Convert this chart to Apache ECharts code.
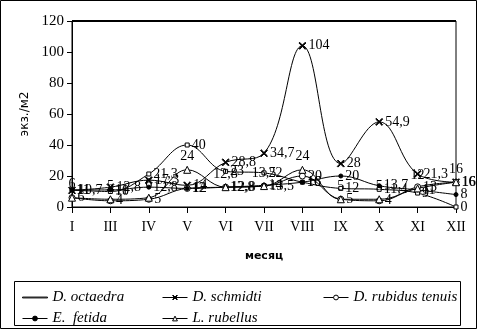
<!DOCTYPE html>
<html>
<head>
<meta charset="utf-8">
<script src="https://cdn.jsdelivr.net/npm/echarts@6/dist/echarts.min.js"></script>
<style>
html,body{margin:0;padding:0;background:#fff;}
#main{width:477px;height:329px;}
</style>
</head>
<body>
<div id="main"></div>
<script>
var months = ['I','III','IV','V','VI','VII','VIII','IX','X','XI','XII'];
var yTicks = [0,20,40,60,80,100,120];

var octaedra = [11, 10, 21.3, 40, 23, 22, 16, 12, 11.4, 9, 0];
var schmidti = [10.7, 12.8, 17.3, 14, 28.8, 34.7, 104, 28, 54.9, 21.3, 16];
var rubidus  = [6, 4, 5, 12, 12.8, 13.5, 20, 5, 4, 13, 16];
var fetida   = [11, 11, 12.8, 12, 12.8, 14, 16, 20, 13.7, 11, 8];
var rubellus = [6, 5, 6, 24, 12.8, 13.5, 24, 5, 5, 12, 16];

var names = ['D. octaedra','D. schmidti','D. rubidus tenuis','E.  fetida','L. rubellus'];

var cross = 'path://M0,1L1,0L5,4L9,0L10,1L6,5L10,9L9,10L5,6L1,10L0,9L4,5Z';

function fmt(p){
    return String(p.value).replace('.',',');
}

function mk(name,data,symbol,size,pos,fill){
    return {
        name:name,
        type:'line',
        smooth:0.4,
        data:data,
        symbol:symbol,
        symbolSize:size,
        showAllSymbol:true,
        lineStyle:{color:'#000',width:1},
        itemStyle:{color:fill,borderColor:'#000',borderWidth:1},
        label:{show:true,position:pos,distance:2,color:'#000',
            fontFamily:'Liberation Serif',fontSize:14,formatter:fmt},
        emphasis:{disabled:true}
    };
}

var myChart = echarts.init(document.getElementById('main'));
var legendText = {fontFamily:'Liberation Serif',fontStyle:'italic',fontSize:15,color:'#000'};
function lg(name,left,top,icon){
    var d = {name:name};
    var h = 6;
    if(icon){ d.icon = icon; h = 1; }
    return {data:[d],left:left,top:top,itemWidth:25,itemHeight:h,itemGap:4,
        textStyle:legendText,selectedMode:false,
        lineStyle:{width:1,color:'#000'},itemStyle:{borderWidth:1,borderColor:'#000'}};
}

option = {
    backgroundColor:'#fff',
    animation:false,
    grid:{left:72,right:21,top:21,bottom:122,show:true,borderColor:'#000',borderWidth:1},
    graphic:[
        {type:'rect',shape:{x:0.5,y:0.5,width:476,height:328},style:{fill:'none',stroke:'#000',lineWidth:1}},
        {type:'line',shape:{x1:72,y1:21,x2:456,y2:21},style:{stroke:'#000',lineWidth:2}},
        {type:'rect',shape:{x:14.5,y:281.5,width:446,height:44},style:{fill:'none',stroke:'#000',lineWidth:1}}
    ],
    legend:[
        lg(names[0],17,285,'path://M0,0h30v1h-30z'),
        lg(names[1],157,285),
        lg(names[2],318,285),
        lg(names[3],17,306),
        lg(names[4],157,306)
    ],
    xAxis:{
        type:'category',
        boundaryGap:false,
        data:months,
        name:'месяц',
        nameLocation:'middle',
        nameGap:44,
        nameTextStyle:{fontFamily:'DejaVu Sans',fontWeight:'bold',fontSize:11,color:'#000'},
        axisLine:{lineStyle:{color:'#000',width:1}},
        axisTick:{show:true,alignWithLabel:true,length:6,lineStyle:{color:'#000'}},
        axisLabel:{color:'#000',fontFamily:'Liberation Serif',fontSize:14,margin:13},
        splitLine:{show:false}
    },
    yAxis:{
        type:'value',
        min:0,
        max:120,
        interval:20,
        name:'экз./м2',
        nameLocation:'middle',
        nameGap:31,
        nameTextStyle:{fontFamily:'DejaVu Sans',fontSize:12,color:'#000'},
        axisLine:{show:true,lineStyle:{color:'#000',width:1}},
        axisTick:{show:true,length:5,lineStyle:{color:'#000'}},
        axisLabel:{color:'#000',fontFamily:'Liberation Serif',fontSize:15,margin:8,
            formatter:function(v){return yTicks.indexOf(v)>=0?String(v):'';}},
        splitLine:{show:false}
    },
    series:[
        mk(names[0],octaedra,'rect',4,'right','#fff'),
        mk(names[1],schmidti,cross,7,'right','#000'),
        mk(names[2],rubidus,'circle',6,'right','#fff'),
        mk(names[3],fetida,'circle',4,'right','#000'),
        mk(names[4],rubellus,'triangle',7,'top','#fff')
    ]
};
myChart.setOption(option);
</script>
</body>
</html>
